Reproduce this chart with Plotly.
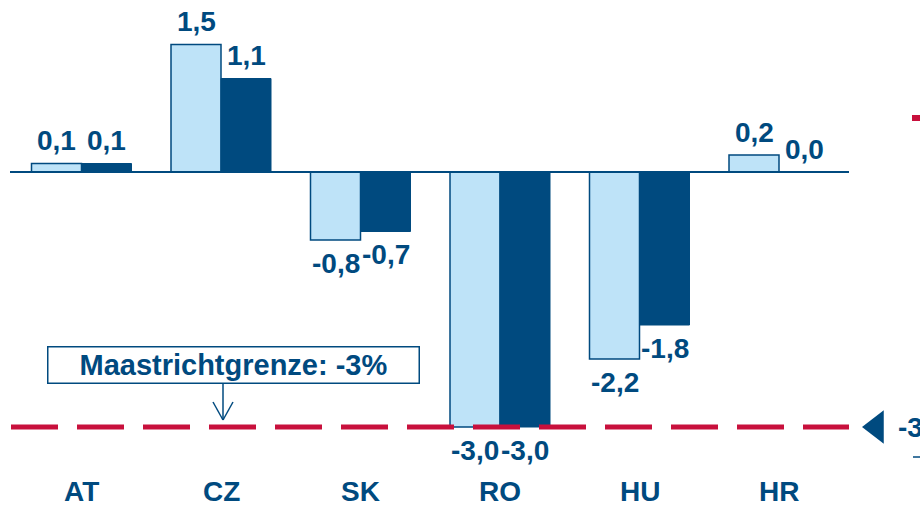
"""Budgetsaldo je Land mit Maastrichtgrenze (-3 %)."""

import plotly.graph_objects as go

# --- data -------------------------------------------------------------------
countries = ["AT", "CZ", "SK", "RO", "HU", "HR"]
values_light = [0.1, 1.5, -0.8, -3.0, -2.2, 0.2]
values_dark = [0.1, 1.1, -0.7, -3.0, -1.8, 0.0]
maastricht_limit = -3.0
limit_label = "Maastrichtgrenze: -3%"
side_label = "-3"

# --- style ------------------------------------------------------------------
DARK = "#004A7F"
LIGHT = "#BEE3F8"
RED = "#C8103C"
FONT = "Liberation Sans, Arial, sans-serif"

W, H = 920, 506
X0_PX, X_STEP = 81.5, 139.5      # pixel of first category, pixels per category
Y0_PX, Y_STEP = 172.0, 85.0      # pixel of zero line, pixels per unit


def px_x(p):
    return (p - X0_PX) / X_STEP


def px_y(p):
    return (Y0_PX - p) / Y_STEP


def fmt(v):
    return f"{v:.1f}".replace(".", ",")


xs = list(range(len(countries)))
half = 50 / X_STEP / 2  # half bar width in category units

fig = go.Figure()
fig.add_trace(go.Bar(
    x=xs, y=values_light, marker_color=LIGHT,
    marker_line_color=DARK, marker_line_width=1.5, hoverinfo="skip",
))
fig.add_trace(go.Bar(
    x=xs, y=values_dark, marker_color=DARK,
    marker_line_color=DARK, marker_line_width=1, hoverinfo="skip",
))

# zero line and Maastricht limit
fig.add_shape(type="line", x0=px_x(10), x1=px_x(849), y0=0, y1=0,
              line=dict(color=DARK, width=2))
fig.add_shape(type="line", x0=px_x(11), x1=px_x(849), y0=maastricht_limit, y1=maastricht_limit,
              line=dict(color=RED, width=5, dash="47px,19px"))

# value labels
for i, (a, b) in enumerate(zip(values_light, values_dark)):
    for v, dx in ((a, -half), (b, half)):
        fig.add_annotation(
            x=i + dx, y=v, text=f"<b>{fmt(v)}</b>", showarrow=False,
            yanchor="middle", yshift=23 if v >= 0 else -23,
            font=dict(family=FONT, size=28, color=DARK),
        )

# category labels
for i, c in enumerate(countries):
    fig.add_annotation(
        x=i, y=px_y(491), text=f"<b>{c}</b>", showarrow=False,
        font=dict(family=FONT, size=28, color=DARK),
    )

# Maastricht call-out box with open arrow
fig.add_annotation(
    x=px_x(233.5), y=px_y(365), text=f"<b>{limit_label}</b>", showarrow=False,
    width=368, height=33, bordercolor=DARK, borderwidth=1.5, borderpad=1,
    bgcolor="white", font=dict(family=FONT, size=29, color=DARK),
)
ax_ = px_x(223)
fig.add_shape(type="line", x0=ax_, x1=ax_, y0=px_y(384), y1=px_y(420),
              line=dict(color=DARK, width=1.5))
for side in (-10, 10):
    fig.add_shape(type="line", x0=px_x(223 + side), x1=ax_, y0=px_y(402), y1=px_y(420),
                  line=dict(color=DARK, width=1.5))

# cut-off elements at the right edge
fig.add_trace(go.Scatter(
    x=[px_x(876.5)], y=[maastricht_limit], mode="markers", hoverinfo="skip",
    marker=dict(symbol="triangle-left", size=29, color=DARK),
))
fig.add_annotation(
    x=px_x(896), y=maastricht_limit, text=f"<b>{side_label}</b>", showarrow=False,
    xanchor="left", font=dict(family=FONT, size=28, color=DARK),
)
fig.add_shape(type="line", x0=px_x(912), x1=px_x(925), y0=px_y(118), y1=px_y(118),
              line=dict(color=RED, width=6))
fig.add_shape(type="line", x0=px_x(913), x1=px_x(925), y0=px_y(457), y1=px_y(457),
              line=dict(color=DARK, width=1.5))

fig.update_layout(
    width=W, height=H,
    margin=dict(l=0, r=0, t=0, b=0),
    plot_bgcolor="white", paper_bgcolor="white",
    barmode="group", bargap=1 - 100 / X_STEP, bargroupgap=0,
    showlegend=False,
    xaxis=dict(range=[px_x(0), px_x(W)], visible=False, fixedrange=True),
    yaxis=dict(range=[px_y(H), px_y(0)], visible=False, fixedrange=True),
)

# drop the browser's default body margin so the figure fills the window
fig.write_html(
    "out.html",
    config={"displayModeBar": False},
    post_script="document.body.style.margin = '0';",
)
